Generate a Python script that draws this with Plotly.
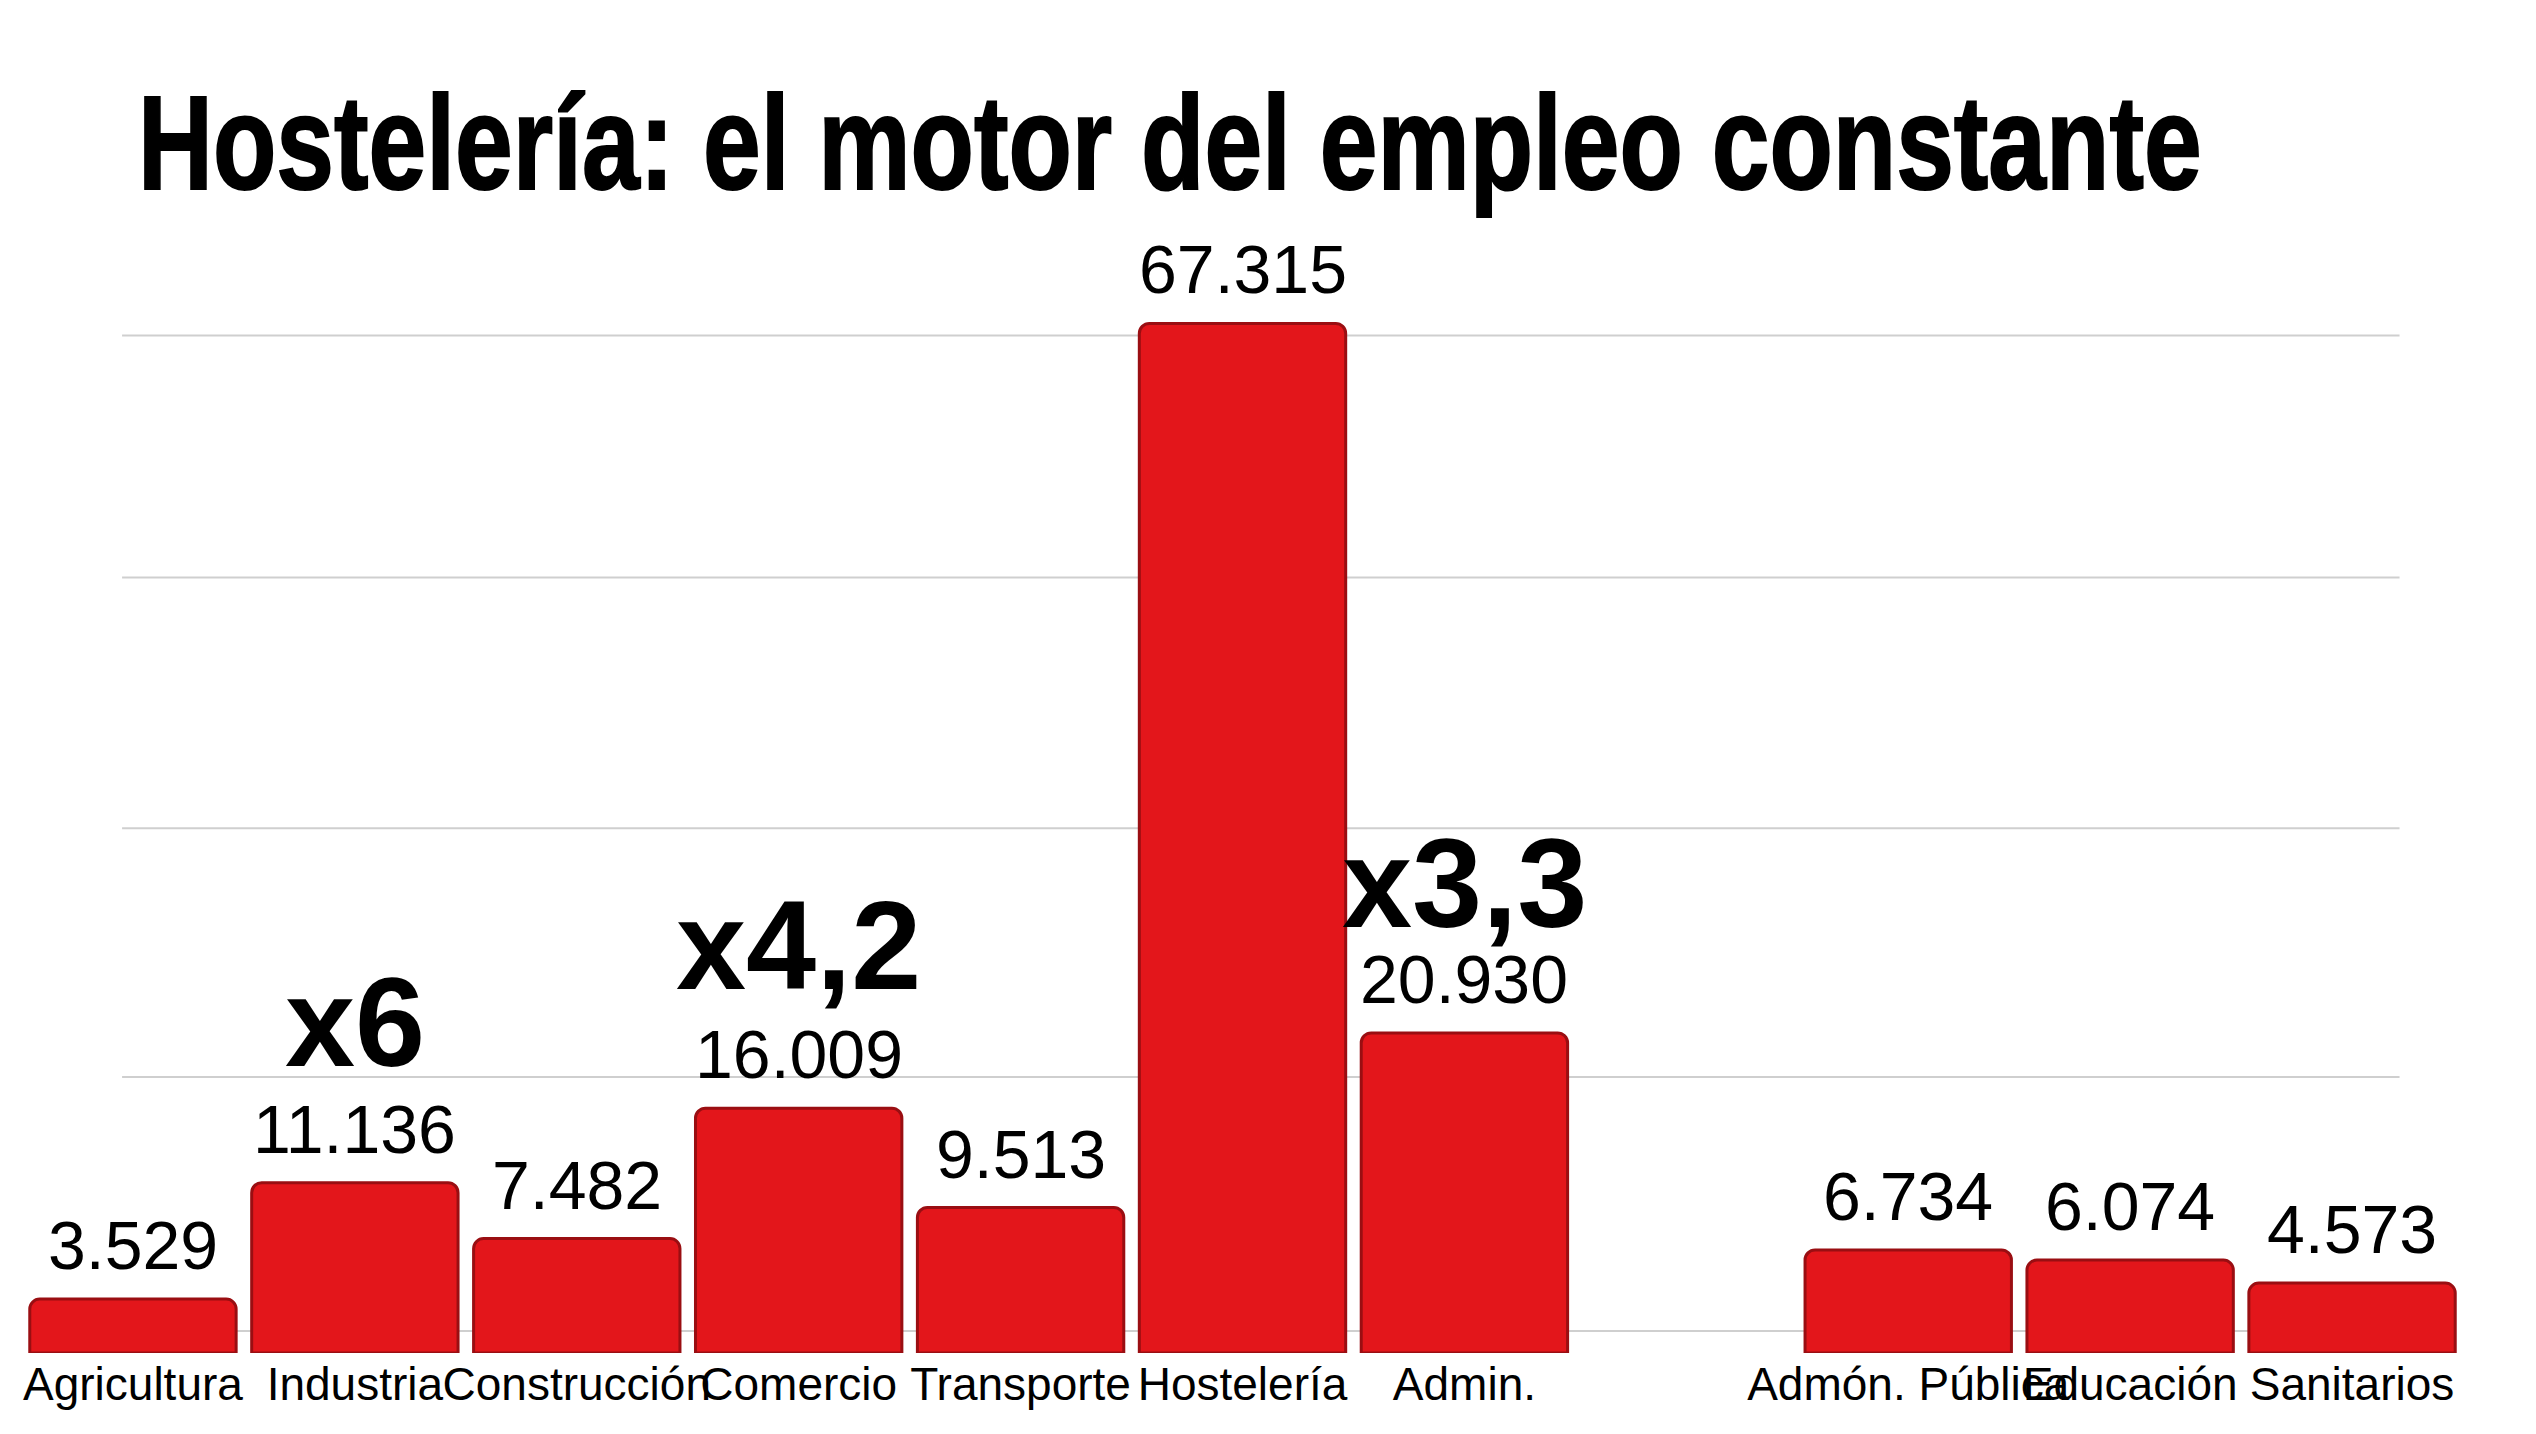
import plotly.graph_objects as go

# ---- data ----
categories = ["Agricultura", "Industria", "Construcción", "Comercio", "Transporte",
              "Hostelería", "Admin.", " ", "Admón. Pública", "Educación", "Sanitarios"]
values = [3529, 11136, 7482, 16009, 9513, 67315, 20930, None, 6734, 6074, 4573]

multiplier_cats = ["Industria", "Comercio", "Admin."]
multiplier_vals = [11136, 16009, 20930]
multiplier_text = ["x6", "x4,2", "x3,3"]
multiplier_shift = [88, 90, 77]

grid_values = [1440, 18040, 34310, 50710, 66530]

title_text = "Hostelería: el motor del empleo constante"


def fmt(v):
    return "" if v is None else f"{v:,}".replace(",", ".")


W, H = 2536, 1434
ML, MR, MT, MB = 14, 81, 230, 89
FONT = "Liberation Sans, Arial, Helvetica, sans-serif"

fig = go.Figure()
fig.add_trace(go.Bar(
    x=categories, y=values,
    marker=dict(color="#E3161B", line=dict(color="#9A0E12", width=3), cornerradius=10),
    cliponaxis=False, hoverinfo="x+y",
))

# value labels
for c, v in zip(categories, values):
    if v is None:
        continue
    fig.add_annotation(x=c, y=v, text=fmt(v), showarrow=False, yanchor="bottom", yshift=14,
                       font=dict(family=FONT, size=68, color="#000"))

for c, v, t, s in zip(multiplier_cats, multiplier_vals, multiplier_text, multiplier_shift):
    fig.add_annotation(x=c, y=v, text=f"<b>{t}</b>", showarrow=False,
                       yanchor="bottom", yshift=s,
                       font=dict(family=FONT, size=126, color="#000"))

for g in grid_values:
    fig.add_shape(type="line", xref="paper", yref="y", x0=0.041, x1=0.974, y0=g, y1=g,
                  line=dict(color="#CFCFCF", width=2), layer="below")

fig.update_layout(
    width=W, height=H,
    margin=dict(l=ML, r=MR, t=MT, b=MB, autoexpand=False),
    paper_bgcolor="white", plot_bgcolor="white",
    bargap=0.07, showlegend=False,
    title=dict(text=f"<b>{title_text}</b>", xref="container", yref="container",
               x=130 / W, xanchor="left", y=1 - 134 / H, yanchor="middle",
               font=dict(family=FONT, size=133, color="#000")),
    xaxis=dict(type="category", showgrid=False, zeroline=False, showline=False, ticks="",
               tickangle=0,
               tickfont=dict(family=FONT, size=46, color="#000"),
               automargin=False),
    yaxis=dict(range=[0, 72900], showgrid=False, zeroline=False, showline=False,
               showticklabels=False, automargin=False),
)

# condensed look for the title (the reference uses a condensed bold face)
post_script = """
var gd = document.getElementById('{plot_id}');
function squeezeTitle(){
  var t = gd.querySelector('.gtitle');
  if(!t) return;
  var x = parseFloat(t.getAttribute('x')) || 0;
  t.setAttribute('transform', 'translate(' + x + ',0) scale(0.78,1) translate(' + (-x) + ',0)');
  t.style.stroke = '#000';
  t.style.strokeWidth = '2px';
}
squeezeTitle();
gd.on('plotly_afterplot', squeezeTitle);
"""

fig.write_html("out.html", post_script=post_script)
